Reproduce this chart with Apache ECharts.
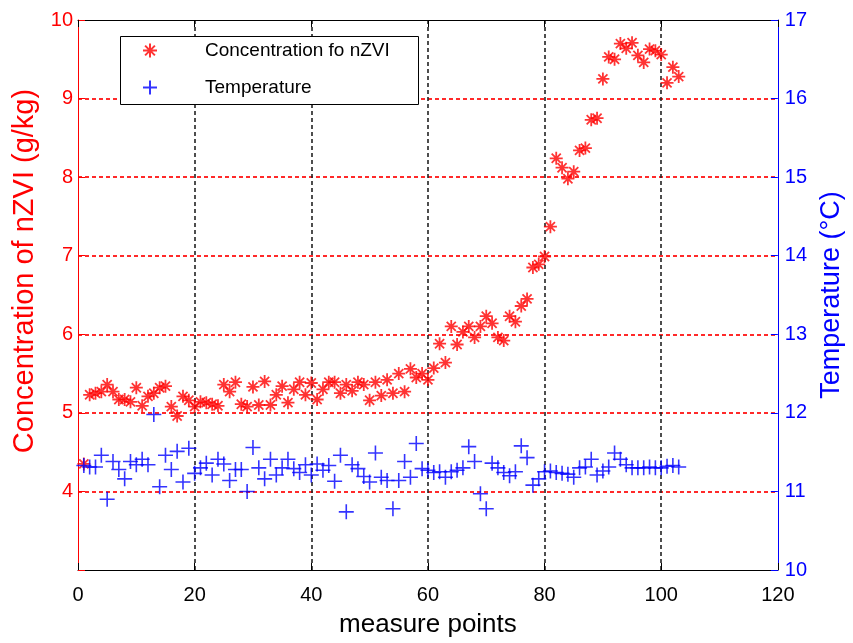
<!DOCTYPE html>
<html>
<head>
<meta charset="utf-8">
<script src="https://cdn.jsdelivr.net/npm/echarts@6/dist/echarts.min.js"></script>
<style>
  html, body { margin: 0; padding: 0; background: #fff; }
  #chart { width: 853px; height: 643px; }
</style>
</head>
<body>
<div id="chart"></div>
<script>
// Measure point index (1..103)
const measurePoints = [
  1, 2, 3, 4, 5, 6, 7, 8, 9, 10, 11, 12, 13, 14, 15, 16, 17, 18, 19, 20,
  21, 22, 23, 24, 25, 26, 27, 28, 29, 30, 31, 32, 33, 34, 35, 36, 37, 38, 39, 40,
  41, 42, 43, 44, 45, 46, 47, 48, 49, 50, 51, 52, 53, 54, 55, 56, 57, 58, 59, 60,
  61, 62, 63, 64, 65, 66, 67, 68, 69, 70, 71, 72, 73, 74, 75, 76, 77, 78, 79, 80,
  81, 82, 83, 84, 85, 86, 87, 88, 89, 90, 91, 92, 93, 94, 95, 96, 97, 98, 99, 100,
  101, 102, 103
];

// Concentration of nZVI (g/kg), left axis
const concentration = [
  4.35, 5.23, 5.25, 5.27, 5.36, 5.27, 5.17, 5.17, 5.14, 5.32,
  5.09, 5.21, 5.25, 5.32, 5.34, 5.08, 4.96, 5.21, 5.16, 5.08,
  5.14, 5.13, 5.11, 5.09, 5.36, 5.27, 5.39, 5.11, 5.08, 5.33,
  5.10, 5.40, 5.10, 5.23, 5.34, 5.13, 5.30, 5.39, 5.23, 5.38,
  5.17, 5.30, 5.39, 5.39, 5.25, 5.36, 5.28, 5.39, 5.36, 5.16,
  5.39, 5.22, 5.42, 5.25, 5.50, 5.27, 5.56, 5.45, 5.50, 5.42,
  5.57, 5.88, 5.64, 6.10, 5.87, 6.03, 6.10, 5.96, 6.10, 6.23,
  6.14, 5.96, 5.92, 6.23, 6.16, 6.36, 6.45, 6.85, 6.89, 6.99,
  7.37, 8.24, 8.12, 7.98, 8.07, 8.34, 8.37, 8.73, 8.75, 9.25,
  9.53, 9.50, 9.70, 9.64, 9.71, 9.55, 9.46, 9.63, 9.61, 9.56,
  9.20, 9.40, 9.28
];

// Temperature (°C), right axis
const temperature = [
  11.33, 11.31, 11.31, 11.46, 10.90, 11.38, 11.28, 11.16, 11.38, 11.34,
  11.41, 11.34, 11.98, 11.06, 11.46, 11.28, 11.51, 11.12, 11.55, 11.23,
  11.30, 11.36, 11.21, 11.41, 11.35, 11.14, 11.28, 11.28, 11.00, 11.56,
  11.30, 11.16, 11.41, 11.21, 11.30, 11.41, 11.29, 11.24, 11.34, 11.21,
  11.35, 11.27, 11.33, 11.13, 11.46, 10.74, 11.34, 11.29, 11.19, 11.12,
  11.49, 11.18, 11.14, 10.78, 11.14, 11.38, 11.18, 11.61, 11.29, 11.27,
  11.24, 11.25, 11.18, 11.25, 11.27, 11.30, 11.57, 11.38, 10.97, 10.78,
  11.36, 11.30, 11.24, 11.20, 11.25, 11.58, 11.43, 11.08, 11.16, 11.25,
  11.26, 11.24, 11.23, 11.22, 11.18, 11.30, 11.31, 11.41, 11.21, 11.26,
  11.31, 11.49, 11.41, 11.34, 11.30, 11.30, 11.30, 11.31, 11.30, 11.30,
  11.32, 11.33, 11.31
];

// Axis ranges and tick steps
const xRange = [0, 120, 20];
const leftRange = [3, 10, 1];
const rightRange = [10, 17, 1];

const FONT = '"Liberation Sans", Arial, sans-serif';
const RED = '#ff0000';
const BLUE = '#0000ff';

// MATLAB-style '*' and '+' markers as stroked paths
const STAR = 'path://M10,0L10,20M0,10L20,10M3,3L17,17M3,17L17,3';
const PLUS = 'path://M0,10L20,10M10,0L10,20';

const concPairs = measurePoints.map((x, i) => [x, concentration[i]]);
const tempPairs = measurePoints.map((x, i) => [x, temperature[i]]);

const chart = echarts.init(document.getElementById('chart'), null, { renderer: 'canvas' });

chart.setOption({
  animation: false,
  backgroundColor: '#fff',
  grid: { left: 78, right: 64, top: 20, bottom: 63, containLabel: false },
  legend: {
    orient: 'vertical',
    left: 142,
    top: 41,
    padding: 0,
    itemWidth: 100,
    itemHeight: 14,
    itemGap: 18,
    textStyle: { fontFamily: FONT, fontSize: 19, color: '#000' },
    data: ['Concentration fo nZVI', 'Temperature'],
    z: 10
  },
  graphic: [{
    type: 'rect',
    z: 3,
    shape: { x: 120.5, y: 36.5, width: 298, height: 68 },
    style: { fill: '#fff', stroke: '#000', lineWidth: 1 }
  }],
  xAxis: [{
    type: 'value',
    position: 'bottom',
    min: xRange[0], max: xRange[1], interval: xRange[2],
    name: 'measure points',
    nameLocation: 'middle',
    nameGap: 42,
    nameTextStyle: { fontFamily: FONT, fontSize: 26, color: '#000' },
    axisLine: { show: true, onZero: false, lineStyle: { color: '#000', width: 1 } },
    axisTick: { show: true, inside: true, length: 7, lineStyle: { color: '#000' } },
    axisLabel: { fontFamily: FONT, fontSize: 20, color: '#000', margin: 15 },
    splitLine: {
      show: true, showMinLine: false, showMaxLine: false,
      lineStyle: { color: '#222', type: [4, 3], width: 1.6 }
    }
  }, {
    type: 'value',
    position: 'top',
    min: xRange[0], max: xRange[1], interval: xRange[2],
    axisLine: { show: true, onZero: false, lineStyle: { color: '#000', width: 1 } },
    axisTick: { show: true, inside: true, length: 7, lineStyle: { color: '#000' } },
    axisLabel: { show: false },
    splitLine: { show: false }
  }],
  yAxis: [{
    type: 'value',
    position: 'left',
    min: leftRange[0], max: leftRange[1], interval: leftRange[2],
    name: 'Concentration of nZVI (g/kg)',
    nameLocation: 'middle',
    nameRotate: 90,
    nameGap: 35,
    nameTextStyle: { fontFamily: FONT, fontSize: 29, color: RED, padding: [0, 0, 0, 48] },
    axisLine: { show: true, onZero: false, lineStyle: { color: RED, width: 1 } },
    axisTick: { show: true, inside: true, length: 7, lineStyle: { color: RED } },
    axisLabel: {
      fontFamily: FONT, fontSize: 20, color: RED, margin: 5,
      formatter: v => (v === leftRange[0] ? '' : String(v))
    },
    splitLine: {
      show: true, showMinLine: false, showMaxLine: false,
      lineStyle: { color: '#ff2a2a', type: [4, 3], width: 1.8 }
    }
  }, {
    type: 'value',
    position: 'right',
    min: rightRange[0], max: rightRange[1], interval: rightRange[2],
    name: 'Temperature (°C)',
    nameLocation: 'middle',
    nameRotate: 90,
    nameGap: 31,
    nameTextStyle: { fontFamily: FONT, fontSize: 27, color: BLUE },
    axisLine: { show: true, onZero: false, lineStyle: { color: BLUE, width: 1 } },
    axisTick: { show: true, inside: true, length: 7, lineStyle: { color: BLUE } },
    axisLabel: { fontFamily: FONT, fontSize: 20, color: BLUE, margin: 7 },
    splitLine: { show: false }
  }],
  series: [{
    name: 'Concentration fo nZVI',
    type: 'scatter',
    xAxisIndex: 0,
    yAxisIndex: 0,
    symbol: STAR,
    symbolSize: 13,
    itemStyle: { color: 'rgba(0,0,0,0)', borderColor: RED, borderWidth: 1.8 },
    data: concPairs,
    z: 4
  }, {
    name: 'Temperature',
    type: 'scatter',
    xAxisIndex: 0,
    yAxisIndex: 1,
    symbol: PLUS,
    symbolSize: 15,
    itemStyle: { color: 'rgba(0,0,0,0)', borderColor: BLUE, borderWidth: 1.6 },
    data: tempPairs,
    z: 5
  }]
});
</script>
</body>
</html>
